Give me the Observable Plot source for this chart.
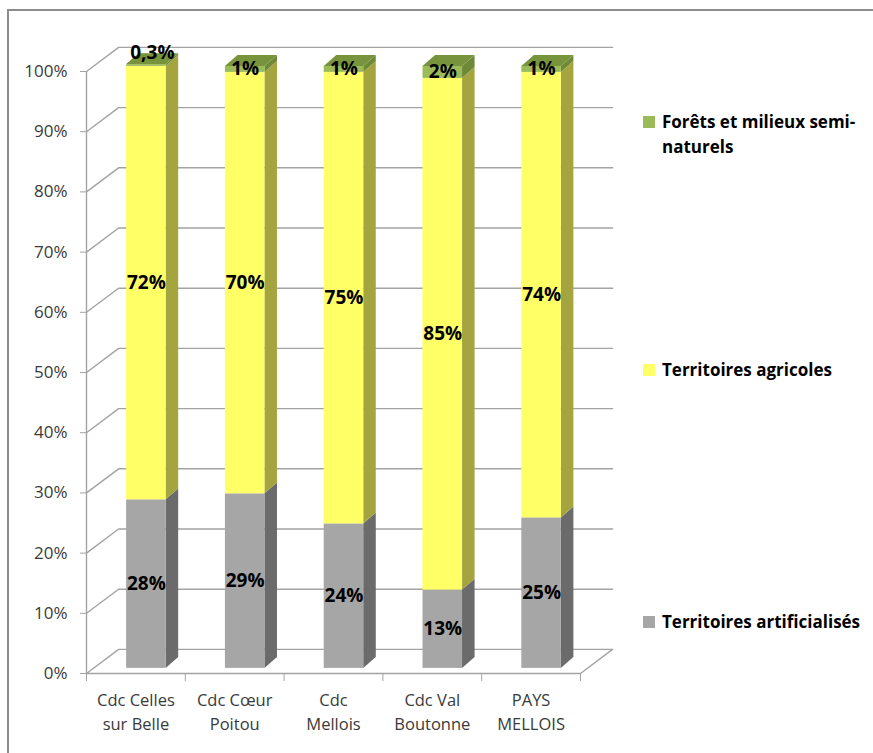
<!DOCTYPE html>
<html>
<head>
<meta charset="utf-8">
<script src="https://cdn.jsdelivr.net/npm/d3@7"></script>
<script src="https://cdn.jsdelivr.net/npm/@observablehq/plot@0.6"></script>
<style>
  body { margin: 0; background: #fff; }
  #wrap { position: relative; width: 873px; height: 753px; overflow: hidden; font-family: "Open Sans", sans-serif; }
  #frame { position: absolute; left: 7px; top: 9px; width: 900px; height: 800px; border-left: 2px solid #8c8c8c; border-top: 2px solid #8c8c8c; box-sizing: border-box; }
  #chart { position: absolute; left: 0; top: 0; }
  .lg { position: absolute; left: 643px; font-weight: 700; font-size: 17px; color: #000; line-height: 25px; }
  .lg .sw { position: absolute; left: 0; top: 7px; width: 12px; height: 12px; }
  .lg .tx { position: absolute; left: 19px; top: 0; white-space: nowrap; }
</style>
</head>
<body>
<div id="wrap">
  <div id="frame"></div>
  <div id="chart"></div>
  <div id="legend"></div>
</div>
<script>
// ---- data ----
const categories = ["Cdc Celles sur Belle", "Cdc Cœur Poitou", "Cdc Mellois", "Cdc Val Boutonne", "PAYS MELLOIS"];
const categoryLabels = ["Cdc Celles\nsur Belle", "Cdc Cœur\nPoitou", "Cdc\nMellois", "Cdc Val\nBoutonne", "PAYS\nMELLOIS"];
const seriesNames = ["Territoires artificialisés", "Territoires agricoles", "Forêts et milieux semi-naturels"];
const legendLabels = ["Territoires artificialisés", "Territoires agricoles", "Forêts et milieux semi-\nnaturels"];
const artificialises = [28, 29, 24, 13, 25];
const agricoles = [72, 70, 75, 85, 74];
const forets = [0.3, 1, 1, 2, 1];
const yTicks = [0, 10, 20, 30, 40, 50, 60, 70, 80, 90, 100];

// ---- styles ----
const frontColors = ["#a6a6a6", "#ffff66", "#9bbb59"];
const sideColors = ["#6b6b6b", "#a5a540", "#6e8a37"];
const topColor = "#77933c";

// ---- 3D geometry (data units) ----
const wallDx = 0.325, wallDy = 4.0;
const barOffX = 0.106, barOffY = 0.85, barHalf = 0.2;
const barDepthX = 0.127, barDepthY = 1.8;
const nCat = categories.length;

const seriesValues = [artificialises, agricoles, forets];
const segments = [];
categories.forEach((c, i) => {
  let base = 0;
  seriesValues.forEach((vals, s) => {
    const v = vals[i];
    const cx = i + 0.5 + barOffX;
    segments.push({
      cat: c, i, s, v,
      x1: cx - barHalf, x2: cx + barHalf, cx,
      y1: base + barOffY, y2: base + v + barOffY,
      mid: base + v / 2 + barOffY,
      top: s === seriesValues.length - 1,
      label: String(v).replace(".", ",") + "%"
    });
    base += v;
  });
});

// side faces (parallelograms)
const sidePts = [];
segments.forEach((d, k) => {
  sidePts.push({k, s: d.s, x: d.x2, y1: d.y1, y2: d.y2});
  sidePts.push({k, s: d.s, x: d.x2 + barDepthX, y1: d.y1 + barDepthY, y2: d.y2 + barDepthY});
});
// top faces
const topPts = [];
segments.filter(d => d.top).forEach((d, k) => {
  topPts.push({k, y: d.y2, x1: d.x1, x2: d.x2});
  topPts.push({k, y: d.y2 + barDepthY, x1: d.x1 + barDepthX, x2: d.x2 + barDepthX});
});
// walls / gridlines
const gridPts = [];
yTicks.forEach(t => {
  if (t === 0) {
    [[0, 0], [wallDx, wallDy], [nCat + wallDx, wallDy], [nCat, 0], [0, 0]].forEach(([x, y]) => gridPts.push({t, x, y}));
  } else {
    [[0, t], [wallDx, t + wallDy], [nCat + wallDx, t + wallDy]].forEach(([x, y]) => gridPts.push({t, x, y}));
  }
});
const catLabelData = categoryLabels.map((l, i) => ({x: i + 0.5, y: 0, l}));

const chart = Plot.plot({
  width: 873,
  height: 753,
  marginLeft: 86,
  marginRight: 293,
  marginTop: 71,
  marginBottom: 80,
  style: {background: "transparent", overflow: "visible", fontFamily: "'Open Sans', sans-serif"},
  x: {domain: [0, nCat], axis: null},
  y: {domain: [0, 100], axis: null},
  marks: [
    Plot.line(gridPts, {x: "x", y: "y", z: "t", stroke: "#a3a3a3", strokeWidth: 1.4}),
    Plot.ruleX([0], {y1: 0, y2: 100, stroke: "#a3a3a3", strokeWidth: 1.4}),
    Plot.axisY({ticks: yTicks, tickFormat: d => d + "%", tickSize: 6, tickPadding: 13, stroke: "#a3a3a3", fill: "#3a3a3a", fontSize: 17, label: null}),
    Plot.axisX({ticks: d3.range(nCat + 1), tickFormat: () => "", tickSize: 8, stroke: "#a3a3a3", label: null}),
    Plot.text(catLabelData, {x: "x", y: "y", text: "l", lineAnchor: "top", dy: 16, fontSize: 16.5, lineHeight: 1.42, fill: "#3a3a3a"}),
    Plot.areaY(sidePts, {x: "x", y1: "y1", y2: "y2", z: "k", fill: d => sideColors[d.s], curve: "linear"}),
    Plot.rect(segments, {x1: "x1", x2: "x2", y1: "y1", y2: "y2", fill: d => frontColors[d.s]}),
    Plot.areaX(topPts, {y: "y", x1: "x1", x2: "x2", z: "k", fill: topColor, curve: "linear"}),
    Plot.text(segments.filter(d => d.v >= 0.5), {x: "cx", y: "mid", text: "label", fontSize: 19, fontWeight: "bold", fill: "#000"}),
    Plot.text(segments.filter(d => d.v < 0.5), {x: "cx", y: "mid", text: "label", fontSize: 19, fontWeight: "bold", fill: "#000", dy: -13, dx: 6})
  ]
});
document.getElementById("chart").appendChild(chart);

// legend
const legendTop = [609, 357, 109];
const legend = document.getElementById("legend");
legendLabels.forEach((l, s) => {
  const div = document.createElement("div");
  div.className = "lg";
  div.style.top = legendTop[s] + "px";
  const sw = document.createElement("div");
  sw.className = "sw";
  sw.style.background = frontColors[s];
  const tx = document.createElement("div");
  tx.className = "tx";
  tx.innerHTML = l.split("\n").join("<br>");
  div.appendChild(sw);
  div.appendChild(tx);
  legend.appendChild(div);
});
</script>
</body>
</html>
